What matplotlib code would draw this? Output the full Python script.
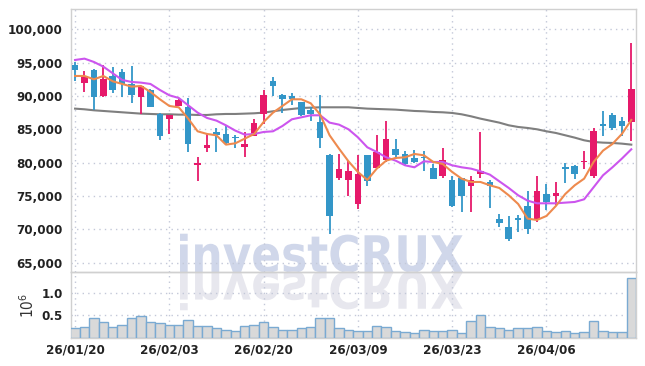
import matplotlib
matplotlib.use("Agg")
import matplotlib.pyplot as plt
import numpy as np
from matplotlib.textpath import TextPath
from matplotlib.patches import PathPatch
from matplotlib.font_manager import FontProperties
from matplotlib.transforms import Affine2D
from matplotlib.ticker import FuncFormatter

plt.rcParams['font.family'] = ['DejaVu Sans']
plt.rcParams['font.stretch'] = 'condensed'

# x tick labels (every 10th trading day)
tick_pos = [0, 10, 20, 30, 40, 50]
tick_labels = ["26/01/20", "26/02/03", "26/02/20", "26/03/09", "26/03/23", "26/04/06"]

# daily candles
opens = [94700, 91950, 93900, 90000, 92950, 93550, 91750, 89850, 90850, 87350,
         86550, 88500, 88350, 79700, 82200, 84550, 84250, 83800, 82350, 84000,
         87350, 92200, 90100, 89950, 89100, 87850, 86100, 81100, 77750, 77400,
         73800, 81100, 79150, 80450, 82100, 81350, 80700, 80800, 79250, 77950,
         77450, 77700, 76550, 78300, 77150, 71550, 70400, 71650, 73550, 71550,
         75300, 74950, 79300, 79550, 80050, 77950, 85850, 87100, 86200, 86100]
highs = [95050, 93750, 94000, 94650, 94400, 94000, 94500, 91500, 91100, 87400,
         87150, 89600, 89700, 80800, 84350, 85200, 85600, 84200, 84600, 86500,
         90850, 92850, 90350, 90450, 89150, 88350, 90100, 81250, 81250, 80300,
         81100, 81100, 84200, 86200, 83500, 81750, 81950, 81700, 79800, 82250,
         78050, 77750, 77950, 84600, 77450, 72300, 71950, 72150, 75800, 77950,
         76800, 77050, 79950, 79600, 81800, 85200, 87700, 87500, 86850, 98000]
lows = [92200, 90600, 87950, 89900, 90500, 89850, 89000, 87350, 88300, 83450,
        84300, 88450, 81600, 77200, 81600, 81600, 82700, 82200, 80800, 83950,
        85850, 90000, 87500, 88600, 87050, 86250, 82250, 69300, 77400, 75050,
        73050, 76550, 79100, 80150, 80600, 79650, 79950, 78700, 77500, 77650,
        73400, 72650, 72650, 77700, 73200, 70300, 68250, 69550, 69300, 71050,
        72950, 73650, 76950, 77550, 79050, 77650, 84000, 84850, 84000, 83200]
closes = [93900, 93050, 89850, 92600, 90900, 91750, 90100, 91450, 88350, 84000,
          87100, 89350, 82850, 79900, 82600, 84150, 83000, 83650, 82750, 85900,
          90200, 91500, 89500, 89500, 87100, 87250, 83700, 71950, 79050, 78700,
          78300, 77300, 81600, 83500, 81200, 79800, 80050, 80650, 77550, 80400,
          73450, 75050, 77450, 78800, 76550, 70900, 68600, 71400, 70050, 75800,
          74050, 75450, 79050, 78300, 80300, 84700, 85500, 85200, 85500, 91100]

# moving average lines as drawn on the chart
ma_short = [93000, 93000, 92500, 93000, 92200, 91800, 91400, 91500, 90600, 89500,
            88500, 88300, 86600, 84700, 84300, 84100, 82700, 82900, 83600, 84300,
            86100, 87500, 88500, 89500, 89500, 88900, 87200, 84100, 82100, 80200,
            78600, 77400, 79100, 80300, 80700, 80800, 81300, 81100, 80100, 79800,
            78600, 77600, 77100, 77100, 76600, 76200, 75100, 73800, 71600, 71400,
            72000, 73500, 75300, 76600, 77600, 80100, 81800, 82800, 84300, 86400]
ma_mid = [95400, 95600, 95100, 94400, 93400, 92400, 92100, 92000, 91800, 90900,
          90100, 89700, 88600, 87500, 86700, 86300, 85600, 84800, 84200, 84300,
          84600, 84700, 85500, 86500, 86800, 87100, 87100, 86000, 85700, 85000,
          83800, 82300, 81600, 80800, 80300, 79600, 79300, 80200, 80100, 80100,
          79600, 79300, 79100, 78700, 78200, 77200, 76200, 75100, 74300, 73900,
          73900, 73900, 74000, 74100, 74500, 76300, 78100, 79300, 80600, 82000]
ma_long = [88100, 88000, 87850, 87750, 87650, 87550, 87450, 87350, 87300, 87250,
           87250, 87200, 87200, 87150, 87150, 87250, 87300, 87300, 87350, 87400,
           87500, 87700, 87900, 88050, 88200, 88250, 88300, 88300, 88300, 88300,
           88200, 88100, 88050, 88000, 87950, 87850, 87750, 87700, 87600, 87550,
           87450, 87250, 86950, 86600, 86300, 86000, 85600, 85350, 85200, 85000,
           84700, 84450, 84100, 83750, 83350, 83100, 83000, 82950, 82850, 82700]

# volume in millions
volume = [0.21, 0.25, 0.45, 0.34, 0.25, 0.29, 0.43, 0.49, 0.36, 0.32,
          0.29, 0.29, 0.40, 0.27, 0.27, 0.21, 0.18, 0.16, 0.27, 0.29,
          0.36, 0.25, 0.18, 0.18, 0.21, 0.25, 0.43, 0.43, 0.21, 0.18,
          0.16, 0.16, 0.27, 0.23, 0.14, 0.12, 0.10, 0.18, 0.14, 0.14,
          0.18, 0.10, 0.38, 0.51, 0.25, 0.21, 0.18, 0.21, 0.21, 0.23,
          0.14, 0.12, 0.16, 0.10, 0.12, 0.38, 0.16, 0.12, 0.12, 1.33]

UP = "#e6196a"
DOWN = "#3396c8"
GRID = "#c3c8d8"
SPINE = "#d0d0d0"
TXT = "#222222"

W, H = 645, 366
fig = plt.figure(figsize=(W / 100, H / 100), dpi=100)
fig.patch.set_facecolor("white")

ax = fig.add_axes([71 / W, 93.7 / H, 565 / W, 263 / H])
axv = fig.add_axes([71 / W, 28.3 / H, 565 / W, 65.4 / H], sharex=ax)

x = np.arange(len(closes))
o = np.array(opens); c = np.array(closes)
colors = [UP if cc >= oo else DOWN for oo, cc in zip(o, c)]

ax.vlines(x, lows, highs, colors=colors, lw=1.3, zorder=3)
ax.bar(x, np.maximum(np.abs(c - o), 120), bottom=np.minimum(o, c), width=0.7,
       color=colors, zorder=4)

ax.plot(x, ma_long, color="#7f7f7f", lw=1.5, zorder=2)
ax.plot(x, ma_mid, color="#cc55ee", lw=1.5, zorder=5)
ax.plot(x, ma_short, color="#ee8a4e", lw=1.5, zorder=5)

axv.bar(x, volume, width=1.0, color="#d9d9d9", edgecolor="#7aaad2", lw=1, zorder=3)

for a in (ax, axv):
    a.set_facecolor("none")
    a.grid(True, color=GRID, ls=(0, (1, 3)), lw=1)
    a.tick_params(axis="y", length=0, colors=TXT, pad=6)
    a.tick_params(axis="x", length=0, colors=TXT, pad=4)
    for s in a.spines.values():
        s.set_color(SPINE)
        s.set_linewidth(1)

ax.set_xlim(-0.43, 59.5)
ax.set_ylim(63550, 103000)
ax.set_yticks(np.arange(65000, 100001, 5000))
ax.yaxis.set_major_formatter(FuncFormatter(lambda v, p: f"{v:,.0f}"))
ax.set_xticks(tick_pos)
ax.tick_params(labelbottom=False)

axv.set_ylim(0, 1.46)
axv.set_yticks([0.5, 1.0])
axv.set_xticks(tick_pos)
axv.set_xticklabels(tick_labels)
axv.set_ylabel(r"$10^6$", fontsize=11, color="#333333", labelpad=3)

for lab in ax.get_yticklabels() + axv.get_yticklabels() + axv.get_xticklabels():
    lab.set_fontweight("bold")
    lab.set_fontsize(9.5)
    lab.set_fontstretch("condensed")

# watermark with reflection
fp = FontProperties(family="DejaVu Sans", weight="bold", stretch="normal")
tp = TextPath((0, 0), "investCRUX", size=100, prop=fp)
ext = tp.get_extents()
sx = 283 / ext.width
sy = 39 / ext.height
t_main = Affine2D().translate(-ext.x0, 0).scale(sx, sy).translate(180, H - 272)
t_refl = Affine2D().translate(-ext.x0, 0).scale(sx, -sy).translate(180, H - 272)
fig.patches.append(PathPatch(tp, transform=t_main, facecolor="#d0d7ea",
                             edgecolor="none", zorder=-1))
fig.patches.append(PathPatch(tp, transform=t_refl, facecolor="#e7e7ee",
                             edgecolor="none", zorder=-1))

fig.savefig("out.png", dpi=100)
